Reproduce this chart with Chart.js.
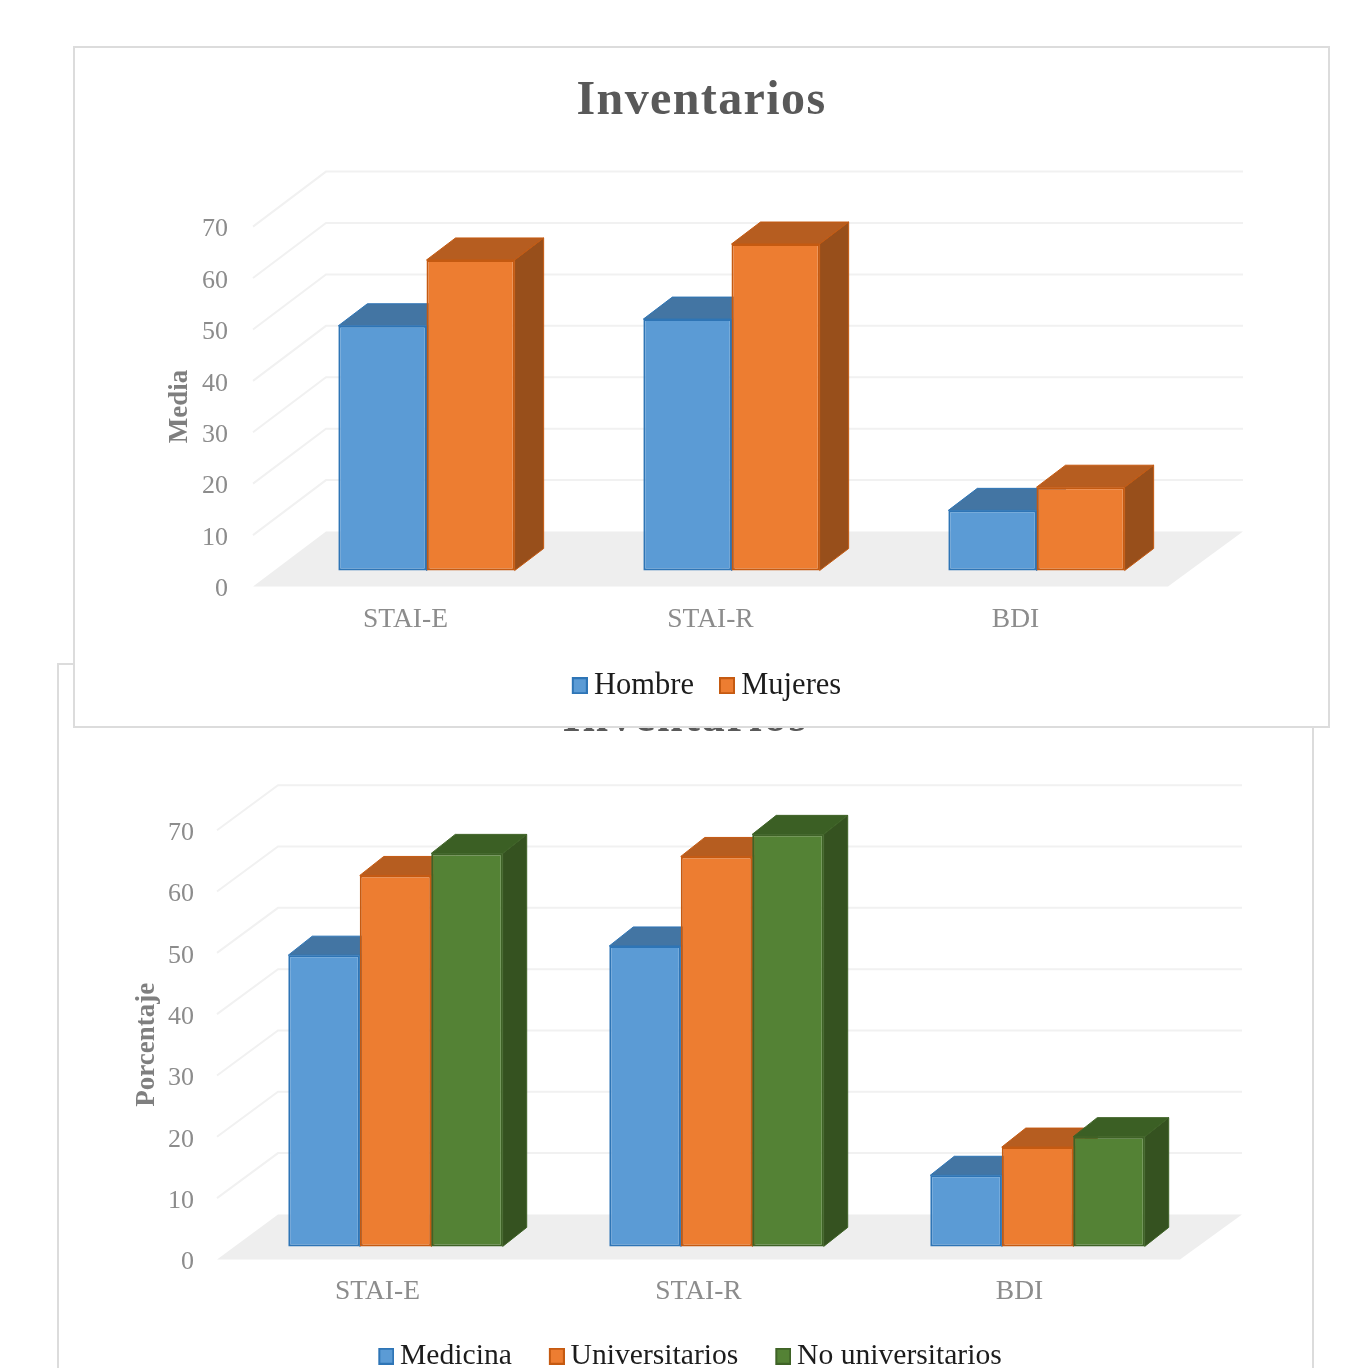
<!DOCTYPE html>
<html lang="es">
<head>
<meta charset="utf-8">
<title>Inventarios</title>
<script src="https://cdn.jsdelivr.net/npm/chart.js@4"></script>
<style>
html,body{margin:0;padding:0;background:#fff;width:1365px;height:1368px;overflow:hidden}
.box{position:absolute;background:#fff;overflow:hidden}
.box::after{content:"";position:absolute;inset:0;border:2px solid #dcdcdc;box-sizing:border-box;pointer-events:none}
canvas{position:absolute;left:0;top:0}
</style>
</head>
<body>
<div class="box" style="left:57px;top:663px;width:1257px;height:760px"><canvas id="c2" width="1256" height="760"></canvas></div>
<div class="box" style="left:73px;top:46px;width:1257px;height:682px"><canvas id="c1" width="1256" height="681"></canvas></div>
<script>
const categories = ['STAI-E', 'STAI-R', 'BDI'];
const chartTitle = 'Inventarios';
const hombre = [47.6, 48.9, 11.7];
const mujeres = [60.4, 63.5, 16.2];
const medicina = [47.5, 49.0, 11.6];
const universitarios = [60.5, 63.6, 16.2];
const noUniversitarios = [64.1, 67.2, 17.9];
const yMax = 70;
const yStep = 10;

const SERIF = '"Liberation Serif", "Times New Roman", serif';
const BLUE  = {fill:'#5b9bd5', line:'#2e75b6', top:'#4375a3', side:'#3a6690'};
const ORANGE= {fill:'#ed7d31', line:'#c55a11', top:'#b65d20', side:'#984f1b'};
const GREEN = {fill:'#548235', line:'#3f6327', top:'#3b5f24', side:'#355220'};

function swatch(c){
  const s=document.createElement('canvas'); s.width=19; s.height=17;
  const x=s.getContext('2d');
  x.fillStyle=c.line; x.fillRect(3,0,16,17);
  x.fillStyle=c.fill; x.fillRect(5,2,12,13);
  return s;
}

const depthPlugin = {
  id:'depth',
  beforeDraw(chart,args,o){
    if(chart.$wrapped) return;
    chart.$wrapped=true;
    const t=chart.titleBlock, td=t.draw;
    t.draw=function(a){const c=this.ctx;c.save();c.translate(o.titleShift,0);c.letterSpacing=o.titleSpacing;td.call(this,a);c.restore();};
    const l=chart.legend, ld=l.draw;
    l.draw=function(a){const c=this.ctx;c.save();c.translate(o.legendShift,o.legendShiftY);ld.call(this,a);c.restore();};
  },
  beforeDatasetsDraw(chart,args,o){
    const c=chart.ctx, a=chart.chartArea, ys=chart.scales.y;
    const zero=ys.getPixelForValue(0);
    c.save();
    c.fillStyle='#eeeeee';
    c.beginPath();
    c.moveTo(a.left,zero); c.lineTo(a.right,zero);
    c.lineTo(a.right+o.backXR,zero+o.backY); c.lineTo(a.left+o.backX,zero+o.backY);
    c.closePath(); c.fill();
    c.strokeStyle='#f1f1f1'; c.lineWidth=2;
    ys.ticks.forEach(t=>{
      if(t.value===0) return;
      const y=ys.getPixelForValue(t.value);
      c.beginPath();
      c.moveTo(a.left,y);
      c.lineTo(a.left+o.backX,y+o.backY);
      c.lineTo(a.right+o.backXR,y+o.backY);
      c.stroke();
    });
    c.restore();
    c.save();
    c.translate(o.shiftX,o.shiftY);
    chart.data.datasets.forEach((ds,i)=>{
      const col=o.palette[i];
      chart.getDatasetMeta(i).data.forEach(bar=>{
        const {x,y,base,width}=bar.getProps(['x','y','base','width'],true);
        const l=x-width/2, r=x+width/2, dx=o.barX, dy=o.barY;
        c.fillStyle=col.top; c.strokeStyle=col.line; c.lineWidth=1;
        c.beginPath();
        c.moveTo(l,y); c.lineTo(r,y); c.lineTo(r+dx,y+dy); c.lineTo(l+dx,y+dy);
        c.closePath(); c.fill(); c.stroke();
        c.fillStyle=col.side;
        c.beginPath();
        c.moveTo(r,y); c.lineTo(r+dx,y+dy); c.lineTo(r+dx,base+dy); c.lineTo(r,base);
        c.closePath(); c.fill(); c.stroke();
      });
    });
    c.restore();
    c.save();
    c.translate(o.shiftX,o.shiftY);
  },
  afterDatasetsDraw(chart){ chart.ctx.restore(); }
};

function build(id,cfg){
  return new Chart(document.getElementById(id),{
    type:'bar',
    data:{labels:categories,datasets:cfg.series.map(s=>({
      label:s.label,data:s.values,backgroundColor:s.color.fill,borderColor:s.color.line,
      borderWidth:2,borderSkipped:false,clip:false,categoryPercentage:cfg.catPct,barPercentage:1
    }))},
    plugins:[depthPlugin],
    options:{
      responsive:false,animation:false,devicePixelRatio:1,
      layout:{padding:{left:0,right:cfg.padRight,top:0,bottom:cfg.padBottom}},
      plugins:{
        tooltip:{enabled:false},
        title:{display:true,text:chartTitle,color:'#595959',
          font:{family:SERIF,size:cfg.titleSize,weight:'bold',lineHeight:1.2},
          padding:{top:cfg.titleTop,bottom:cfg.titleBottom}},
        legend:{display:true,position:'bottom',
          labels:{font:{family:SERIF,size:cfg.legendSize},color:'#1c1c1c',usePointStyle:true,pointStyleWidth:1,
            padding:cfg.legendPad,
            generateLabels(ch){
              return Chart.defaults.plugins.legend.labels.generateLabels(ch).map((it,i)=>{
                it.pointStyle=swatch(cfg.series[i].color); return it;
              });
            }}},
        depth:{palette:cfg.series.map(s=>s.color),shiftX:cfg.shiftX,shiftY:cfg.shiftY,backX:cfg.backX,backXR:cfg.backXR,backY:cfg.backY,
          barX:cfg.barX,barY:cfg.barY,titleSpacing:cfg.titleSpacing,titleShift:cfg.titleShift,
          legendShift:cfg.legendShift,legendShiftY:cfg.legendShiftY}
      },
      scales:{
        x:{grid:{display:false},border:{display:false},
          ticks:{color:'#8c8c8c',font:{family:SERIF,size:27.5},padding:cfg.xTickPad,autoSkip:false,maxRotation:0,minRotation:0},
          afterFit(s){s.height=cfg.xHeight;}},
        y:{min:0,max:yMax,grid:{display:false},border:{display:false},
          ticks:{stepSize:yStep,color:'#8c8c8c',font:{family:SERIF,size:26},padding:cfg.yTickPad,labelOffset:3},
          title:{display:true,text:cfg.yTitle,color:'#7f7f7f',font:{family:SERIF,size:27,weight:'bold',lineHeight:1.2},
            padding:{top:cfg.yTitleTop,bottom:0}},
          afterFit(s){s.width=cfg.yWidth;}}
      }
    }
  });
}

build('c2',{
  series:[{label:'Medicina',values:medicina,color:BLUE},{label:'Universitarios',values:universitarios,color:ORANGE},{label:'No universitarios',values:noUniversitarios,color:GREEN}],
  catPct:0.668,padRight:133,padBottom:12,titleSize:46,titleTop:29,titleBottom:83,titleSpacing:1.9+'px',titleShift:67,
  legendSize:29.6,legendPad:43,legendShift:74.5,legendShiftY:-30,xHeight:69,xTickPad:8,yTickPad:15,yTitle:'Porcentaje',yTitleTop:74,yWidth:160,
  shiftX:18,shiftY:-13,backX:61,backXR:62,backY:-45,barX:24,barY:-19
});
build('c1',{
  series:[{label:'Hombre',values:hombre,color:BLUE},{label:'Mujeres',values:mujeres,color:ORANGE}],
  catPct:0.578,padRight:161,padBottom:0,titleSize:48,titleTop:27,titleBottom:96,titleSpacing:1.4+'px',titleShift:81,
  legendSize:30.5,legendPad:31,legendShift:89,legendShiftY:-16,xHeight:69,xTickPad:9,yTickPad:17,yTitle:'Media',yTitleTop:91,yWidth:180,
  shiftX:21,shiftY:-16,backX:73,backXR:75,backY:-55,barX:29,barY:-22
});
</script>
</body>
</html>
